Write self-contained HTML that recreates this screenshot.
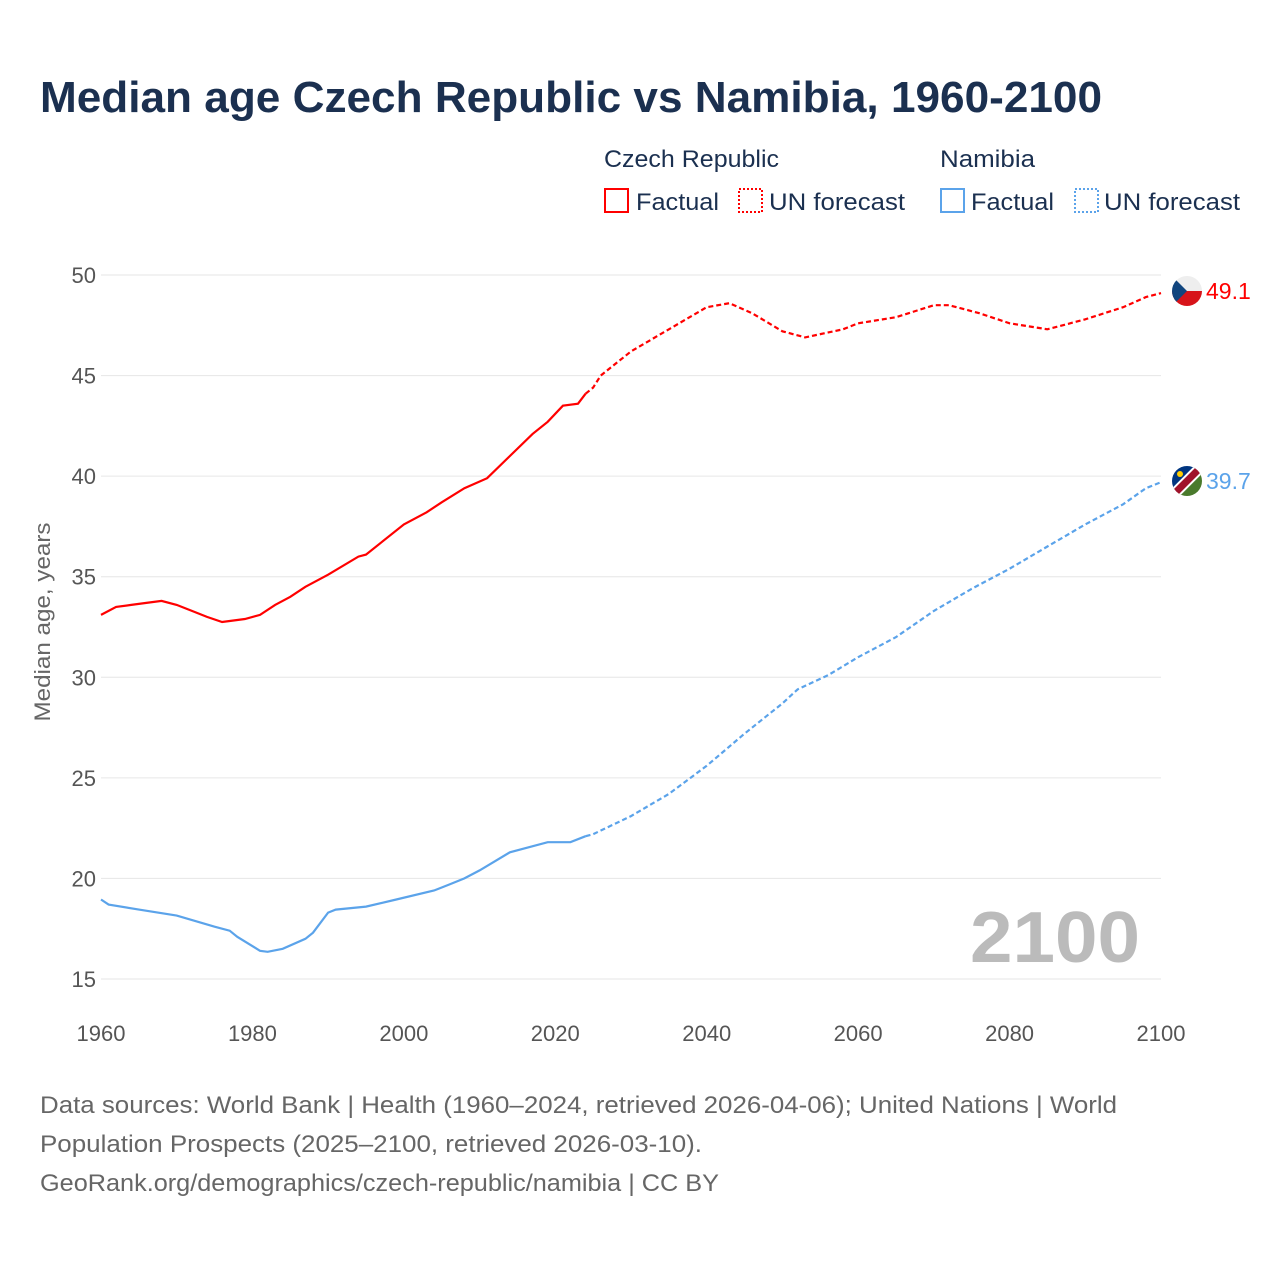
<!DOCTYPE html>
<html><head><meta charset="utf-8">
<style>
body{margin:0;background:#fff;font-family:"Liberation Sans",sans-serif;}
svg text{font-family:"Liberation Sans",sans-serif;}
</style></head>
<body>
<svg id="chart" width="1280" height="1280" viewBox="0 0 1280 1280" xmlns="http://www.w3.org/2000/svg">
<rect width="1280" height="1280" fill="#fff"/>
<text x="40" y="112" font-size="44" font-weight="bold" fill="#1b3050" textLength="1062" lengthAdjust="spacingAndGlyphs">Median age Czech Republic vs Namibia, 1960-2100</text>
<g font-size="24" fill="#1b3050">
<text x="604" y="167" textLength="175" lengthAdjust="spacingAndGlyphs">Czech Republic</text>
<text x="940" y="167" textLength="95" lengthAdjust="spacingAndGlyphs">Namibia</text>
<g><rect x="605" y="189" width="23" height="23" fill="none" stroke="#f00" stroke-width="2"/><text x="636" y="210" textLength="83" lengthAdjust="spacingAndGlyphs">Factual</text></g>
<g><rect x="739" y="189" width="23" height="23" fill="none" stroke="#f00" stroke-width="2" stroke-dasharray="2,2"/><text x="769" y="210" textLength="136" lengthAdjust="spacingAndGlyphs">UN forecast</text></g>
<g><rect x="941" y="189" width="23" height="23" fill="none" stroke="#5ba3ea" stroke-width="2"/><text x="971" y="210" textLength="83" lengthAdjust="spacingAndGlyphs">Factual</text></g>
<g><rect x="1075" y="189" width="23" height="23" fill="none" stroke="#5ba3ea" stroke-width="2" stroke-dasharray="2,2"/><text x="1104" y="210" textLength="136" lengthAdjust="spacingAndGlyphs">UN forecast</text></g>
</g>
<g id="grid"></g>
<g id="yticks" font-size="22" fill="#555" text-anchor="end"></g>
<g id="xticks" font-size="22" fill="#555" text-anchor="middle"></g>
<text transform="translate(50,622) rotate(-90)" font-size="22" fill="#666" text-anchor="middle" textLength="199" lengthAdjust="spacingAndGlyphs">Median age, years</text>
<text x="970" y="962" font-size="72" font-weight="bold" fill="#bbb" textLength="170" lengthAdjust="spacingAndGlyphs">2100</text>
<g id="series"></g>
<g transform="translate(1187,291)">
<clipPath id="c1"><circle r="15"/></clipPath>
<g clip-path="url(#c1)"><rect x="-15" y="-15" width="30" height="15" fill="#eee"/><rect x="-15" y="0" width="30" height="15" fill="#d7141a"/><polygon points="-15,-15 0,0 -15,15" fill="#11457e"/></g></g>
<g transform="translate(1187,481)">
<clipPath id="c2"><circle r="15"/></clipPath>
<g clip-path="url(#c2)"><polygon points="-15,-15 15,-15 -15,15" fill="#003580"/><polygon points="15,-15 15,15 -15,15" fill="#4a7a2c"/><line x1="-18" y1="18" x2="18" y2="-18" stroke="#fff" stroke-width="11"/><line x1="-18" y1="18" x2="18" y2="-18" stroke="#a0122a" stroke-width="7"/><circle cx="-7" cy="-7" r="3" fill="#ffce00"/></g></g>
<text x="1206" y="299" font-size="23" fill="#f00">49.1</text>
<text x="1206" y="489" font-size="23" fill="#5ba3ea">39.7</text>
<g font-size="24" fill="#666">
<text x="40" y="1113" textLength="1077" lengthAdjust="spacingAndGlyphs">Data sources: World Bank | Health (1960–2024, retrieved 2026-04-06); United Nations | World</text>
<text x="40" y="1152" textLength="662" lengthAdjust="spacingAndGlyphs">Population Prospects (2025–2100, retrieved 2026-03-10).</text>
<text x="40" y="1191" textLength="679" lengthAdjust="spacingAndGlyphs">GeoRank.org/demographics/czech-republic/namibia | CC BY</text>
</g>
</svg>
<script>
const yTicks=[15,20,25,30,35,40,45,50];
const xTicks=[1960,1980,2000,2020,2040,2060,2080,2100];
const czYearsF=[1960,1962,1964,1966,1968,1970,1972,1974,1976,1977,1979,1981,1983,1985,1987,1990,1994,1995,2000,2003,2005,2008,2011,2014,2017,2019,2021,2023,2024];
const czValsF=[33.1,33.5,33.6,33.7,33.8,33.6,33.3,33.0,32.75,32.8,32.9,33.1,33.6,34.0,34.5,35.1,36.0,36.1,37.6,38.2,38.7,39.4,39.9,41.0,42.1,42.7,43.5,43.6,44.1];
const czYearsP=[2024,2025,2026,2030,2035,2040,2043,2046,2050,2053,2058,2060,2065,2070,2072,2076,2080,2085,2090,2095,2098,2100];
const czValsP=[44.1,44.4,45.0,46.2,47.3,48.4,48.6,48.1,47.2,46.9,47.3,47.6,47.9,48.5,48.5,48.1,47.6,47.3,47.8,48.4,48.9,49.1];
const naYearsF=[1960,1961,1965,1970,1975,1977,1978,1981,1982,1984,1987,1988,1990,1991,1995,1999,2004,2006,2008,2010,2014,2019,2022,2024];
const naValsF=[18.95,18.7,18.45,18.15,17.6,17.4,17.1,16.4,16.35,16.5,17.0,17.3,18.3,18.45,18.6,18.95,19.4,19.7,20.0,20.4,21.3,21.8,21.8,22.1];
const naYearsP=[2024,2025,2030,2035,2040,2045,2050,2052,2056,2060,2065,2070,2075,2080,2085,2090,2095,2098,2100];
const naValsP=[22.1,22.2,23.1,24.2,25.6,27.2,28.7,29.4,30.1,31.0,32.0,33.3,34.4,35.4,36.5,37.6,38.6,39.4,39.7];
const X=y=>101+(y-1960)*(1060/140);
const Y=v=>979-(v-15)*(704/35);
const NS='http://www.w3.org/2000/svg';
const grid=document.getElementById('grid'),yt=document.getElementById('yticks'),xt=document.getElementById('xticks'),ser=document.getElementById('series');
yTicks.forEach(t=>{
 const l=document.createElementNS(NS,'line');
 
 
 l.setAttribute('x1',101);l.setAttribute('x2',1161);l.setAttribute('y1',Y(t));l.setAttribute('y2',Y(t));l.setAttribute('stroke','#e6e6e6');
 grid.appendChild(l);
 const tx=document.createElementNS(NS,'text');
 
 
 tx.setAttribute('x',96);tx.setAttribute('y',Y(t)+8);tx.textContent=t;
 yt.appendChild(tx);
});
xTicks.forEach(t=>{
 const tx=document.createElementNS(NS,'text');
 
 
 tx.setAttribute('x',X(t));tx.setAttribute('y',1041);tx.textContent=t;
 xt.appendChild(tx);
});
function line(ys,vs,color,dash,name){
 const p=document.createElementNS(NS,'path');
 
 
 p.setAttribute('d',ys.map((y,i)=>(i?'L':'M')+X(y).toFixed(1)+','+Y(vs[i]).toFixed(1)).join(''));
 p.setAttribute('fill','none');p.setAttribute('stroke',color);p.setAttribute('stroke-width',2.2);
 if(dash)p.setAttribute('stroke-dasharray','5,3');
 ser.appendChild(p);
}
line(czYearsF,czValsF,'#f00',false,'czech-factual-line');
line(czYearsP,czValsP,'#f00',true,'czech-forecast-line');
line(naYearsF,naValsF,'#5ba3ea',false,'namibia-factual-line');
line(naYearsP,naValsP,'#5ba3ea',true,'namibia-forecast-line');
</script>
</body></html>
